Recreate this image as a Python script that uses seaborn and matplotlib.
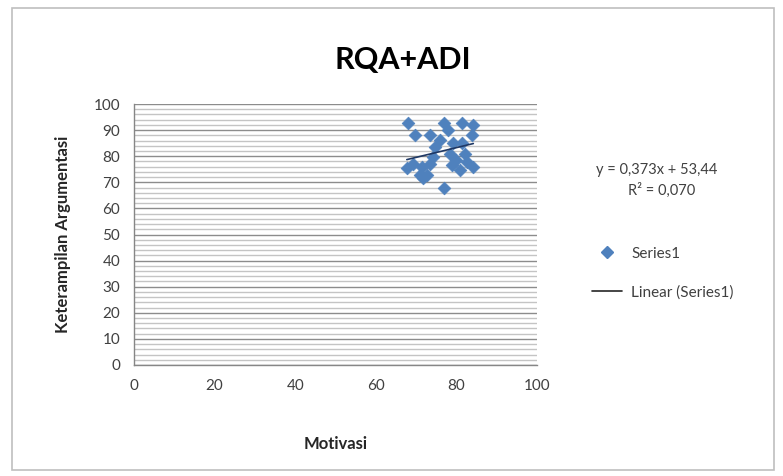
import matplotlib
matplotlib.use("Agg")
import matplotlib.pyplot as plt
import seaborn as sns
import numpy as np
import pandas as pd
from matplotlib.patches import Rectangle
from matplotlib.lines import Line2D
from matplotlib.ticker import MultipleLocator

# data
motivasi = [68.1, 69.7, 73.4, 76.8, 78.0, 81.3, 84.2, 83.8, 75.9, 74.7,
            79.2, 81.3, 82.1, 78.4, 67.7, 69.3, 71.4, 73.4, 74.3, 71.0,
            72.6, 71.8, 78.8, 80.9, 84.2, 80.0, 82.6, 76.8]
argumentasi = [92.6, 88.1, 88.1, 92.6, 90.0, 92.6, 92.0, 88.0, 86.2, 83.6,
               84.9, 84.9, 81.0, 81.0, 75.3, 77.2, 76.0, 77.2, 79.8, 72.8,
               72.8, 71.5, 76.6, 74.7, 76.0, 78.5, 77.9, 67.7]
slope = 0.373
intercept = 53.44
eq_text = "y = 0,373x + 53,44"
r2_text = "R² = 0,070"

df = pd.DataFrame({"Motivasi": motivasi, "Keterampilan Argumentasi": argumentasi})

sns.set_style("white")
plt.rcParams['font.family'] = ['Lato', 'DejaVu Sans']

W, H = 783, 476
fig = plt.figure(figsize=(W / 100, H / 100), dpi=100)
ax = fig.add_axes([134 / W, 1 - 365 / H, (537 - 134) / W, (365 - 104) / H])

# outer chart border
fig.patches.append(Rectangle((12 / W, 6 / H), (774 - 12) / W, (468 - 6) / H,
                             transform=fig.transFigure, fill=False,
                             edgecolor="#bfbfbf", linewidth=1.2))

ax.set_xlim(0, 100)
ax.set_ylim(0, 100)
ax.xaxis.set_major_locator(MultipleLocator(20))
ax.yaxis.set_major_locator(MultipleLocator(10))
ax.yaxis.set_minor_locator(MultipleLocator(2))
ax.grid(True, which="minor", axis="y", color="#c4c4c4", linewidth=1.0)
ax.grid(True, which="major", axis="y", color="#8c8c8c", linewidth=1.0)
ax.set_axisbelow(True)

for side in ["top", "right"]:
    ax.spines[side].set_visible(False)
for side in ["left", "bottom"]:
    ax.spines[side].set_color("#868686")
    ax.spines[side].set_linewidth(1.0)
ax.tick_params(which="major", direction="out", length=4, width=1, color="#868686",
               labelsize=11, labelcolor="#404040", pad=6)
ax.tick_params(which="minor", length=0)

sns.scatterplot(data=df, x="Motivasi", y="Keterampilan Argumentasi", ax=ax,
                marker="D", s=42, color="#4f81bd", edgecolor="#4f81bd",
                linewidth=0.5, zorder=3, legend=False)

xs = np.array([min(motivasi), max(motivasi)])
ax.plot(xs, slope * xs + intercept, color="#1f3864", linewidth=1.2, zorder=4)

ax.set_xlabel("Motivasi", fontsize=12, fontweight="bold", color="#262626", labelpad=31)
ax.set_ylabel("Keterampilan Argumentasi", fontsize=12, fontweight="bold",
              color="#262626", labelpad=16)

fig.text(403 / W, 1 - 60 / H, "RQA+ADI", ha="center", va="center",
         fontsize=22, fontweight="bold", color="#000000")

fig.text(657 / W, 1 - 170 / H, eq_text, ha="center", va="center", fontsize=10.5, color="#404040")
fig.text(662 / W, 1 - 190 / H, r2_text, ha="center", va="center", fontsize=10.5, color="#404040")

handles = [Line2D([], [], marker="D", linestyle="none", color="#4f81bd", markersize=6),
           Line2D([], [], color="#262626", linewidth=1.2)]
fig.legend(handles, ["Series1", "Linear (Series1)"], loc="center left",
           bbox_to_anchor=(578 / W, 1 - 273 / H), frameon=False, fontsize=11,
           labelspacing=1.6, handlelength=2.0, handletextpad=0.6,
           labelcolor="#404040")

fig.savefig("out.png", dpi=100)
